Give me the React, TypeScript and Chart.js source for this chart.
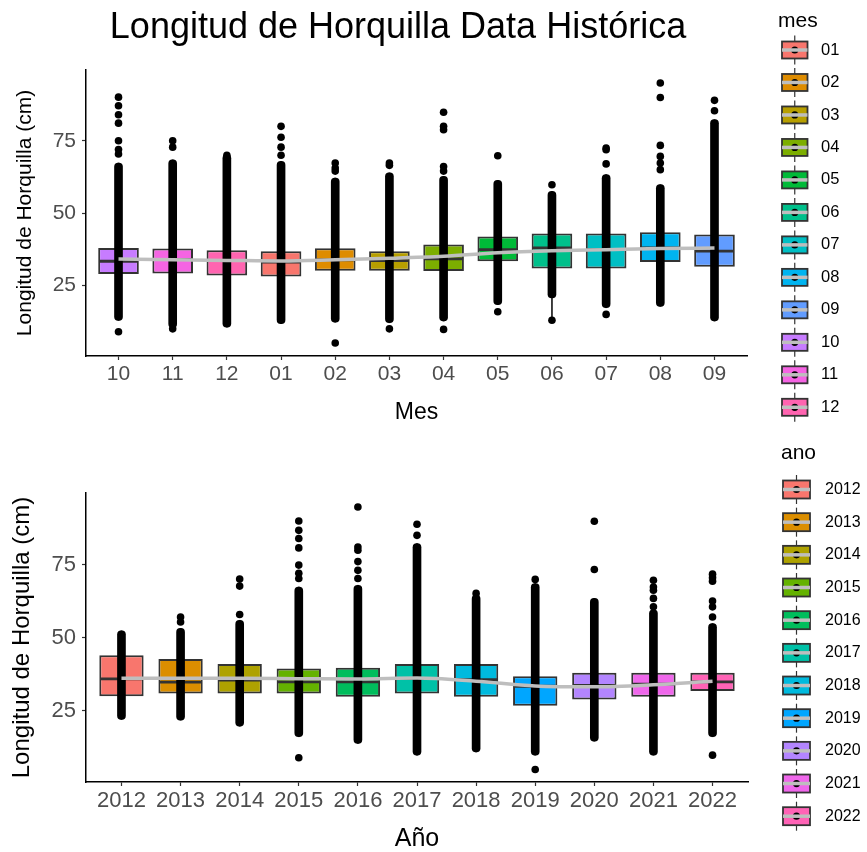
import { useEffect, useRef } from 'react';
import { Chart, registerables } from 'chart.js';

Chart.register(...registerables);

const FUENTE = '"Liberation Sans", Arial, Helvetica, sans-serif';

// ---------- Panel superior: longitud por mes (temporada oct → sep) ----------
const mesCategorias = ['10', '11', '12', '01', '02', '03', '04', '05', '06', '07', '08', '09'];
const mesQ1 = [28.9, 29.1, 28.4, 28.0, 30.0, 30.0, 29.9, 33.3, 30.8, 30.8, 33.0, 31.4];
const mesMediana = [33.3, 33.9, 33.5, 33.0, 33.8, 33.5, 34.1, 37.3, 37.9, 37.3, 37.9, 36.8];
const mesQ3 = [37.9, 37.7, 37.1, 36.8, 37.8, 36.8, 39.1, 41.9, 42.9, 42.9, 43.3, 42.6];
const mesNubeMin = [12.8, 10.3, 10.5, 11.7, 12.2, 12.0, 12.6, 18.3, 20.6, 17.2, 17.7, 12.6];
const mesNubeMax = [67.3, 68.4, 70.2, 67.9, 62.1, 63.9, 62.7, 61.3, 57.5, 63.3, 59.8, 82.3];
const mesBigoteMin = [12.8, 10.3, 10.5, 11.7, 12.2, 12.0, 12.6, 18.3, 12.9, 17.2, 17.7, 12.6];
const mesBigoteMax = [67.3, 68.4, 70.2, 67.9, 62.1, 63.9, 62.7, 61.3, 57.5, 63.3, 59.8, 82.3];
const mesAtipicos = [
  [8.9, 70.4, 72.0, 75.0, 81.1, 84.0, 87.1, 90.1],
  [9.9, 72.8, 75.0],
  [70.0],
  [70.0, 72.8, 76.2, 80.0],
  [5.0, 64.5, 65.6, 67.3],
  [9.9, 66.5, 67.3],
  [9.7, 64.5, 66.1, 78.8, 80.0, 84.9],
  [15.8, 69.8],
  [12.9, 59.8],
  [14.9, 67.0, 71.9, 72.5],
  [65.0, 67.3, 69.6, 73.4, 90.0, 95.0],
  [85.4, 89.0],
];
const mesSuavizado = [34.1, 33.8, 33.6, 33.4, 33.8, 34.3, 35.0, 36.2, 36.9, 37.3, 37.7, 37.9];
const mesLeyenda = ['01', '02', '03', '04', '05', '06', '07', '08', '09', '10', '11', '12'];
const mesPaleta: Record<string, string> = {
  '01': '#F8766D', '02': '#DE8C00', '03': '#B79F00', '04': '#7CAE00',
  '05': '#00BA38', '06': '#00C08B', '07': '#00BFC4', '08': '#00B4F0',
  '09': '#619CFF', '10': '#C77CFF', '11': '#F564E3', '12': '#FF64B0',
};

// ---------- Panel inferior: longitud por año ----------
const anoCategorias = ['2012', '2013', '2014', '2015', '2016', '2017', '2018', '2019', '2020', '2021', '2022'];
const anoQ1 = [29.9, 30.8, 30.8, 30.8, 29.7, 30.8, 29.7, 26.6, 28.8, 29.7, 31.7];
const anoMediana = [35.8, 34.7, 35.4, 34.8, 34.8, 36.0, 35.6, 33.3, 33.6, 34.0, 34.8];
const anoQ3 = [43.9, 42.6, 40.9, 39.4, 39.6, 40.9, 40.9, 36.7, 37.9, 37.9, 37.9];
const anoNubeMin = [21.9, 21.7, 19.6, 16.0, 13.7, 9.7, 10.8, 9.7, 14.5, 9.7, 16.0];
const anoNubeMax = [52.3, 53.1, 55.9, 67.3, 67.9, 82.2, 64.5, 68.5, 63.4, 59.5, 54.8];
const anoAtipicos = [
  [],
  [55.3, 57.0],
  [57.9, 67.6, 70.0],
  [8.8, 70.2, 72.0, 74.8, 80.7, 83.9, 86.7, 89.9],
  [70.2, 73.0, 76.0, 79.9, 81.0, 94.7],
  [85.0, 88.8],
  [65.1],
  [4.8, 69.9],
  [73.3, 89.8],
  [60.5, 63.4, 66.2, 67.3, 69.6],
  [9.7, 57.0, 60.5, 62.5, 69.3, 70.5, 71.7],
];
const anoSuavizado = [36.0, 36.0, 36.0, 35.9, 35.8, 36.1, 35.0, 33.4, 33.1, 33.8, 35.0];
const anoPaleta = [
  '#F8766D', '#DB8E00', '#AEA200', '#64B200', '#00BD5C', '#00C1A7',
  '#00BADE', '#00A6FF', '#B385FF', '#EF67EB', '#FF63B6',
];

const TITULO = 'Longitud de Horquilla Data Histórica';
const TITULO_Y = 'Longitud de Horquilla (cm)';

type Leyenda = {
  titulo: string;
  etiquetas: string[];
  colores: string[];
  tituloX: number;
  tituloY: number;
  claveX: number;
  claveAncho: number;
  claveAlto: number;
  primeraY: number;
  paso: number;
  textoX: number;
  tamTexto: number;
  tamTitulo: number;
};

// Leyenda de cajas a la derecha del panel: caja, mediana, punto y línea suavizada
function pluginLeyenda(l: Leyenda) {
  return {
    id: 'leyendaCajas',
    afterDraw(chart: Chart) {
      const ctx = chart.ctx;
      ctx.save();
      ctx.textAlign = 'left';
      ctx.textBaseline = 'middle';
      ctx.fillStyle = '#000';
      ctx.font = `${l.tamTitulo}px ${FUENTE}`;
      ctx.fillText(l.titulo, l.tituloX, l.tituloY);
      l.etiquetas.forEach((et, i) => {
        const cy = l.primeraY + l.paso * i;
        const cx = l.claveX + l.claveAncho / 2;
        const y0 = cy - l.claveAlto / 2;
        ctx.strokeStyle = '#333333';
        ctx.lineWidth = 1.2;
        ctx.beginPath();
        ctx.moveTo(cx, cy - 14.5);
        ctx.lineTo(cx, cy + 14.5);
        ctx.stroke();
        ctx.fillStyle = l.colores[i];
        ctx.fillRect(l.claveX, y0, l.claveAncho, l.claveAlto);
        ctx.lineWidth = 1.8;
        ctx.strokeRect(l.claveX, y0, l.claveAncho, l.claveAlto);
        ctx.lineWidth = 2;
        ctx.beginPath();
        ctx.moveTo(l.claveX, cy);
        ctx.lineTo(l.claveX + l.claveAncho, cy);
        ctx.stroke();
        ctx.fillStyle = '#000';
        ctx.beginPath();
        ctx.arc(cx, cy, 3.6, 0, Math.PI * 2);
        ctx.fill();
        ctx.strokeStyle = '#BEBEBE';
        ctx.lineWidth = 3.5;
        ctx.beginPath();
        ctx.moveTo(l.claveX, cy);
        ctx.lineTo(l.claveX + l.claveAncho, cy);
        ctx.stroke();
        ctx.fillStyle = '#000';
        ctx.font = `${l.tamTexto}px ${FUENTE}`;
        ctx.fillText(et, l.textoX, cy);
      });
      ctx.restore();
    },
  };
}

function pluginTitulo(texto: string, x: number, y: number, tam: number) {
  return {
    id: 'tituloGeneral',
    afterDraw(chart: Chart) {
      const ctx = chart.ctx;
      ctx.save();
      ctx.fillStyle = '#000';
      ctx.textAlign = 'center';
      ctx.textBaseline = 'middle';
      ctx.font = `${tam}px ${FUENTE}`;
      ctx.fillText(texto, x, y);
      ctx.restore();
    },
  };
}

type Panel = {
  categorias: string[];
  q1: number[];
  mediana: number[];
  q3: number[];
  nubeMin: number[];
  nubeMax: number[];
  bigoteMin: number[];
  bigoteMax: number[];
  atipicos: number[][];
  suavizado: number[];
  colores: string[];
  radioMediana: number;
  tituloX: string;
  tamTituloX: number;
  padTituloX: number;
  tamTituloY: number;
  padTituloY: number;
  tamTicks: number;
  padding: { top: number; right: number; left: number; bottom: number };
  extras: any[];
};

function configuracion(p: Panel): any {
  const n = p.categorias.length;
  const idx = p.categorias.map((_, i) => i);
  const puntos = p.atipicos.flatMap((vals, i) => vals.map((y) => ({ x: i, y })));
  const rejilla = {
    drawOnChartArea: false,
    drawTicks: true,
    tickLength: 4,
    tickColor: '#333333',
    tickWidth: 1.2,
    offset: false,
  };
  const borde = { display: true, color: '#000000', width: 1.5 };
  return {
    type: 'bar',
    data: {
      datasets: [
        {
          type: 'line',
          label: 'suavizado',
          data: p.suavizado.map((y, i) => ({ x: i, y })),
          borderColor: '#BEBEBE',
          borderWidth: 3.5,
          pointRadius: 0,
          cubicInterpolationMode: 'monotone',
          order: 1,
        },
        {
          type: 'scatter',
          label: 'atípicos',
          data: puntos,
          pointRadius: 3.8,
          pointBackgroundColor: '#000000',
          pointBorderWidth: 0,
          order: 2,
        },
        {
          type: 'bar',
          label: 'observaciones',
          data: idx.map((i) => ({ x: i, y: [p.nubeMin[i], p.nubeMax[i]] })),
          backgroundColor: '#000000',
          barThickness: 8,
          borderRadius: 4,
          borderSkipped: false,
          grouped: false,
          order: 3,
        },
        {
          type: 'scatter',
          label: 'mediana',
          data: p.mediana.map((y, i) => ({ x: i, y })),
          pointStyle: 'line',
          pointRadius: p.radioMediana,
          pointBorderWidth: 2.8,
          pointBorderColor: '#333333',
          pointBackgroundColor: '#333333',
          order: 4,
        },
        {
          type: 'bar',
          label: 'caja',
          data: idx.map((i) => ({ x: i, y: [p.q1[i], p.q3[i]] })),
          backgroundColor: p.colores,
          borderColor: '#333333',
          borderWidth: 2,
          borderSkipped: false,
          grouped: false,
          barPercentage: 0.75,
          categoryPercentage: 1,
          order: 5,
        },
        {
          type: 'bar',
          label: 'bigote',
          data: idx.map((i) => ({ x: i, y: [p.bigoteMin[i], p.bigoteMax[i]] })),
          backgroundColor: '#333333',
          barThickness: 1.2,
          grouped: false,
          order: 6,
        },
      ],
    },
    options: {
      responsive: false,
      animation: false,
      devicePixelRatio: 1,
      layout: { padding: p.padding },
      plugins: { legend: { display: false }, tooltip: { enabled: false }, title: { display: false } },
      scales: {
        x: {
          type: 'linear',
          min: -0.6,
          max: n - 1 + 0.6,
          offset: false,
          afterBuildTicks: (eje: any) => {
            eje.ticks = idx.map((v) => ({ value: v }));
          },
          afterFit: (eje: any) => {
            eje.height = 70;
          },
          ticks: {
            callback: (v: number) => p.categorias[v] ?? '',
            color: '#4D4D4D',
            font: { family: FUENTE, size: p.tamTicks, lineHeight: 1.2 },
            padding: 2,
            autoSkip: false,
            maxRotation: 0,
          },
          grid: rejilla,
          border: borde,
          title: {
            display: true,
            text: p.tituloX,
            color: '#000000',
            font: { family: FUENTE, size: p.tamTituloX, lineHeight: 1 },
            padding: { top: 0, bottom: p.padTituloX },
          },
        },
        y: {
          min: 0.5,
          max: 99.5,
          afterBuildTicks: (eje: any) => {
            eje.ticks = [25, 50, 75].map((v) => ({ value: v }));
          },
          afterFit: (eje: any) => {
            eje.width = 86;
          },
          ticks: {
            color: '#4D4D4D',
            font: { family: FUENTE, size: p.tamTicks },
            padding: 6,
          },
          grid: rejilla,
          border: borde,
          title: {
            display: true,
            text: TITULO_Y,
            color: '#000000',
            font: { family: FUENTE, size: p.tamTituloY, lineHeight: 1 },
            padding: { top: p.padTituloY, bottom: 0 },
          },
        },
      },
    },
    plugins: p.extras,
  };
}

export default function App() {
  const refMes = useRef<HTMLCanvasElement>(null);
  const refAno = useRef<HTMLCanvasElement>(null);

  useEffect(() => {
    const graficoMes = new Chart(
      refMes.current as HTMLCanvasElement,
      configuracion({
        categorias: mesCategorias,
        q1: mesQ1,
        mediana: mesMediana,
        q3: mesQ3,
        nubeMin: mesNubeMin,
        nubeMax: mesNubeMax,
        bigoteMin: mesBigoteMin,
        bigoteMax: mesBigoteMax,
        atipicos: mesAtipicos,
        suavizado: mesSuavizado,
        colores: mesCategorias.map((m) => mesPaleta[m]),
        radioMediana: 19.5,
        tituloX: 'Mes',
        tamTituloX: 23,
        padTituloX: 1.5,
        tamTituloY: 21,
        padTituloY: 14.5,
        tamTicks: 21,
        padding: { top: 70, right: 120, left: 0, bottom: 0 },
        extras: [
          pluginTitulo(TITULO, 398, 28, 36),
          pluginLeyenda({
            titulo: 'mes',
            etiquetas: mesLeyenda,
            colores: mesLeyenda.map((m) => mesPaleta[m]),
            tituloX: 778,
            tituloY: 21,
            claveX: 782,
            claveAncho: 25.5,
            claveAlto: 17,
            primeraY: 50,
            paso: 32.48,
            textoX: 821,
            tamTexto: 16.5,
            tamTitulo: 21,
          }),
        ],
      })
    );
    const graficoAno = new Chart(
      refAno.current as HTMLCanvasElement,
      configuracion({
        categorias: anoCategorias,
        q1: anoQ1,
        mediana: anoMediana,
        q3: anoQ3,
        nubeMin: anoNubeMin,
        nubeMax: anoNubeMax,
        bigoteMin: anoNubeMin,
        bigoteMax: anoNubeMax,
        atipicos: anoAtipicos,
        suavizado: anoSuavizado,
        colores: anoPaleta,
        radioMediana: 21.3,
        tituloX: 'Año',
        tamTituloX: 25,
        padTituloX: 0,
        tamTituloY: 24,
        padTituloY: 10.5,
        tamTicks: 22,
        padding: { top: 67, right: 119, left: 0, bottom: 0 },
        extras: [
          pluginLeyenda({
            titulo: 'ano',
            etiquetas: anoCategorias,
            colores: anoPaleta,
            tituloX: 781,
            tituloY: 27,
            claveX: 783,
            claveAncho: 27,
            claveAlto: 18,
            primeraY: 63.5,
            paso: 32.67,
            textoX: 825,
            tamTexto: 16,
            tamTitulo: 21,
          }),
        ],
      })
    );
    return () => {
      graficoMes.destroy();
      graficoAno.destroy();
    };
  }, []);

  return (
    <div style={{ position: 'absolute', left: 0, top: 0, width: 867, height: 852, background: '#ffffff' }}>
      <canvas
        ref={refMes}
        width={867}
        height={426}
        style={{ position: 'absolute', left: 0, top: 0, width: 867, height: 426 }}
      />
      <canvas
        ref={refAno}
        width={867}
        height={426}
        style={{ position: 'absolute', left: 0, top: 426, width: 867, height: 426 }}
      />
    </div>
  );
}
